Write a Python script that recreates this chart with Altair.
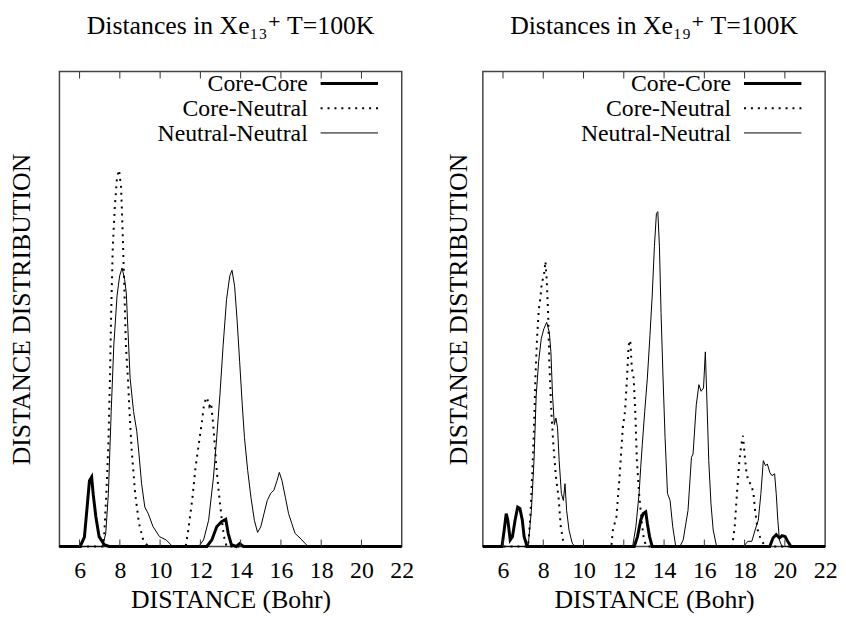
import altair as alt
import pandas as pd

# ---------------- data ----------------
SERIES = ["Core-Core", "Core-Neutral", "Neutral-Neutral"]
X_TICKS = [6, 8, 10, 12, 14, 16, 18, 20, 22]
TITLES = ["Distances in Xe\u2081\u2083\u207a T=100K", "Distances in Xe\u2081\u2089\u207a T=100K"]

# Xe13+ panel
l_cc_x = [5.0, 6.03, 6.24, 6.36, 6.49, 6.60, 6.68, 6.81, 6.97, 7.22, 7.46, 12.32, 12.57, 12.81, 13.05, 13.26, 13.38, 13.54, 13.78, 13.95, 14.14, 22.0]
l_cc_y = [0, 0, 0.02, 0.077, 0.14, 0.148, 0.11, 0.063, 0.021, 0.004, 0, 0, 0.014, 0.042, 0.053, 0.058, 0.028, 0.004, 0, 0.006, 0, 0]

l_cn_x = [5.0, 7.14, 7.22, 7.33, 7.43, 7.51, 7.57, 7.65, 7.75, 7.86, 7.96, 8.06, 8.12, 8.21, 8.30, 8.40, 8.48, 8.59, 8.76, 8.95, 9.16, 9.41,
          11.27, 11.40, 11.59, 11.76, 11.92, 12.08, 12.19, 12.32, 12.44, 12.53, 12.62, 12.70, 12.81, 12.92, 13.05, 13.17, 13.30, 22.0]
l_cn_y = [0, 0, 0.021, 0.113, 0.218, 0.359, 0.499, 0.64, 0.724, 0.788, 0.803, 0.767, 0.696, 0.57, 0.429, 0.359, 0.288, 0.204, 0.113, 0.049, 0.014, 0,
          0, 0.035, 0.098, 0.169, 0.218, 0.267, 0.306, 0.318, 0.299, 0.306, 0.267, 0.225, 0.162, 0.113, 0.063, 0.021, 0, 0]

l_nn_x = [5.0, 7.14, 7.30, 7.43, 7.57, 7.70, 7.86, 7.99, 8.11, 8.24, 8.32, 8.40, 8.51, 8.68, 8.84, 8.95, 9.08, 9.24, 9.41, 9.65,
          9.97, 10.30, 10.62, 11.92, 12.16, 12.41, 12.65, 12.81, 12.97, 13.13, 13.30, 13.46, 13.57, 13.70, 13.82, 13.95, 14.08, 14.19, 14.35, 14.51,
          14.68, 14.84, 15.00, 15.16, 15.32, 15.49, 15.65, 15.81, 15.92, 16.05, 16.22, 16.38, 16.54, 16.70, 16.95, 17.19, 17.35, 22.0]
l_nn_y = [0, 0, 0.028, 0.113, 0.288, 0.429, 0.534, 0.577, 0.594, 0.569, 0.541, 0.464, 0.359, 0.288, 0.246, 0.197, 0.134, 0.084, 0.070, 0.042,
          0.021, 0.014, 0, 0, 0.014, 0.056, 0.148, 0.232, 0.323, 0.429, 0.527, 0.577, 0.589, 0.555, 0.485, 0.394, 0.302, 0.232, 0.162, 0.105,
          0.056, 0.030, 0.042, 0.070, 0.098, 0.113, 0.120, 0.141, 0.158, 0.141, 0.105, 0.070, 0.049, 0.028, 0.018, 0.007, 0, 0]

# Xe19+ panel
r_cc_x = [5.0, 5.95, 6.06, 6.16, 6.24, 6.36, 6.47, 6.60, 6.73, 6.84, 6.96, 7.05, 7.20, 12.52, 12.68, 12.84, 12.96, 13.09, 13.17, 13.28,
          13.41, 19.25, 19.41, 19.57, 19.73, 19.86, 20.01, 20.14, 20.30, 22.0]
r_cc_y = [0, 0, 0.035, 0.070, 0.056, 0.014, 0.021, 0.056, 0.084, 0.081, 0.056, 0.021, 0, 0, 0.021, 0.056, 0.070, 0.074, 0.049, 0.021,
          0, 0, 0.018, 0.025, 0.018, 0.023, 0.021, 0.011, 0, 0]

r_cn_x = [5.0, 7.25, 7.36, 7.46, 7.54, 7.61, 7.69, 7.78, 7.85, 7.93, 8.03, 8.11, 8.17, 8.24, 8.30, 8.40, 8.50, 8.63, 8.76, 8.87,
          8.98, 9.11, 11.38, 11.46, 11.63, 11.79, 11.95, 12.06, 12.16, 12.24, 12.32, 12.40, 12.49, 12.57, 12.65, 12.76, 12.88, 13.00, 13.13, 17.38,
          17.51, 17.62, 17.74, 17.84, 17.92, 18.00, 18.08, 18.19, 18.32, 18.44, 18.52, 18.65, 18.76, 18.92, 19.04, 22.0]
r_cn_y = [0, 0, 0.063, 0.162, 0.253, 0.359, 0.443, 0.506, 0.527, 0.563, 0.577, 0.608, 0.570, 0.499, 0.394, 0.288, 0.218, 0.148, 0.105, 0.042,
          0.014, 0, 0, 0.035, 0.063, 0.148, 0.253, 0.288, 0.359, 0.429, 0.440, 0.380, 0.359, 0.288, 0.183, 0.113, 0.056, 0.014, 0, 0,
          0.042, 0.113, 0.183, 0.218, 0.236, 0.197, 0.162, 0.137, 0.134, 0.113, 0.077, 0.035, 0.021, 0.007, 0, 0]

r_nn_x = [5.0, 7.25, 7.41, 7.54, 7.65, 7.77, 7.90, 8.03, 8.17, 8.30, 8.38, 8.46, 8.55, 8.63, 8.71, 8.79, 8.90, 9.00, 9.08, 9.16,
          9.28, 9.44, 9.57, 12.44, 12.60, 12.76, 12.84, 12.92, 13.04, 13.17, 13.30, 13.41, 13.52, 13.62, 13.69, 13.77, 13.85, 13.95, 14.05, 14.17,
          14.30, 14.43, 14.58, 14.79, 14.95, 15.19, 15.36, 15.44, 15.60, 15.73, 15.84, 15.96, 16.05, 16.12, 16.22, 16.33, 16.44, 16.61, 17.95, 18.16,
          18.36, 18.52, 18.68, 18.81, 18.93, 19.04, 19.13, 19.25, 19.36, 19.49, 19.57, 19.65, 19.73, 19.85, 22.0]
r_nn_y = [0, 0, 0.077, 0.183, 0.323, 0.394, 0.443, 0.464, 0.478, 0.457, 0.415, 0.323, 0.260, 0.274, 0.253, 0.183, 0.113, 0.098, 0.134, 0.077,
          0.035, 0.007, 0, 0, 0.042, 0.113, 0.169, 0.218, 0.288, 0.359, 0.450, 0.534, 0.640, 0.710, 0.714, 0.640, 0.499, 0.359, 0.232, 0.113,
          0.098, 0.042, 0, 0, 0.014, 0.077, 0.190, 0.197, 0.302, 0.345, 0.331, 0.338, 0.415, 0.323, 0.183, 0.091, 0.035, 0, 0, 0.011,
          0.011, 0.035, 0.056, 0.113, 0.183, 0.172, 0.176, 0.158, 0.151, 0.155, 0.113, 0.056, 0.014, 0, 0]

# ---------------- styling ----------------
FONT = "Liberation Serif, DejaVu Serif, serif"
FS = 26
LBL_FS = 24
LEG_FS = 24
W, H = 346, 480
STYLES = {
    "Core-Core": dict(strokeWidth=3),
    "Core-Neutral": dict(strokeWidth=2, strokeDash=[2, 5]),
    "Neutral-Neutral": dict(strokeWidth=1),
}


def make_df(parts):
    rows = []
    for name, (xs, ys) in zip(SERIES, parts):
        for x, y in zip(xs, ys):
            rows.append({"series": name, "d": x, "v": y})
    return pd.DataFrame(rows)


def panel(df, title, ytitle_pad):
    xs = alt.Scale(domain=[5, 22], nice=False, zero=False)
    ys = alt.Scale(domain=[0, 1.0127], nice=False, zero=False)
    xaxis = alt.Axis(values=X_TICKS, ticks=False, tickSize=0, domain=False, grid=False,
                     labelFont=FONT, labelFontSize=LBL_FS, labelPadding=12, labelFlush=False,
                     labelColor="black", title="DISTANCE (Bohr)", titleFont=FONT,
                     titleFontSize=FS, titleFontWeight="normal", titlePadding=5, titleColor="black")
    yaxis = alt.Axis(labels=False, ticks=False, tickSize=0, domain=False, grid=False,
                     title="DISTANCE DISTRIBUTION", titleFont=FONT, titleFontSize=FS,
                     titleFontWeight="normal", titlePadding=ytitle_pad, titleColor="black")
    layers = []
    for s in SERIES:
        layers.append(
            alt.Chart(df).transform_filter(alt.datum.series == s)
            .mark_line(color="black", **STYLES[s])
            .encode(
                x=alt.X("d:Q", scale=xs, axis=xaxis),
                y=alt.Y("v:Q", scale=ys, axis=yaxis),
                order="d:Q",
            )
        )
    tick_df = pd.DataFrame({"t": X_TICKS[:-1]})
    top_ticks = alt.Chart(tick_df).mark_rule(color="#333", strokeWidth=1).encode(
        x=alt.X("t:Q", scale=xs, axis=xaxis), y=alt.value(0), y2=alt.value(7))
    bot_ticks = alt.Chart(tick_df).mark_rule(color="#333", strokeWidth=1).encode(
        x=alt.X("t:Q", scale=xs, axis=xaxis), y=alt.value(H), y2=alt.value(H - 7))
    legend_df = pd.DataFrame({"series": SERIES})
    for i, s in enumerate(SERIES):
        layers.append(
            alt.Chart(legend_df).transform_filter(alt.datum.series == s)
            .mark_text(align="right", baseline="alphabetic", font=FONT, fontSize=LEG_FS, color="black")
            .encode(text="series:N", x=alt.value(251), y=alt.value(20 + 25 * i))
        )
        layers.append(
            alt.Chart(legend_df).transform_filter(alt.datum.series == s)
            .mark_rule(color="black", **STYLES[s])
            .encode(x=alt.value(264), x2=alt.value(322), y=alt.value(12 + 25 * i))
        )
    layers += [top_ticks, bot_ticks]
    return alt.layer(*layers).properties(
        width=W, height=H,
        title=alt.TitleParams(title, font=FONT, fontSize=26, fontWeight="normal",
                              anchor="middle", offset=33, color="black"),
    )


left = panel(make_df([(l_cc_x, l_cc_y), (l_cn_x, l_cn_y), (l_nn_x, l_nn_y)]), TITLES[0], 25)
right = panel(make_df([(r_cc_x, r_cc_y), (r_cn_x, r_cn_y), (r_nn_x, r_nn_y)]), TITLES[1], 12)

chart = alt.hconcat(left, right, spacing=30).properties(
    padding={"left": 0, "top": 0, "right": 0, "bottom": 0},
    background="white",
).configure_view(stroke="#444", strokeWidth=1.5)

chart.save("out.html", embed_options={"renderer": "svg", "actions": False})
